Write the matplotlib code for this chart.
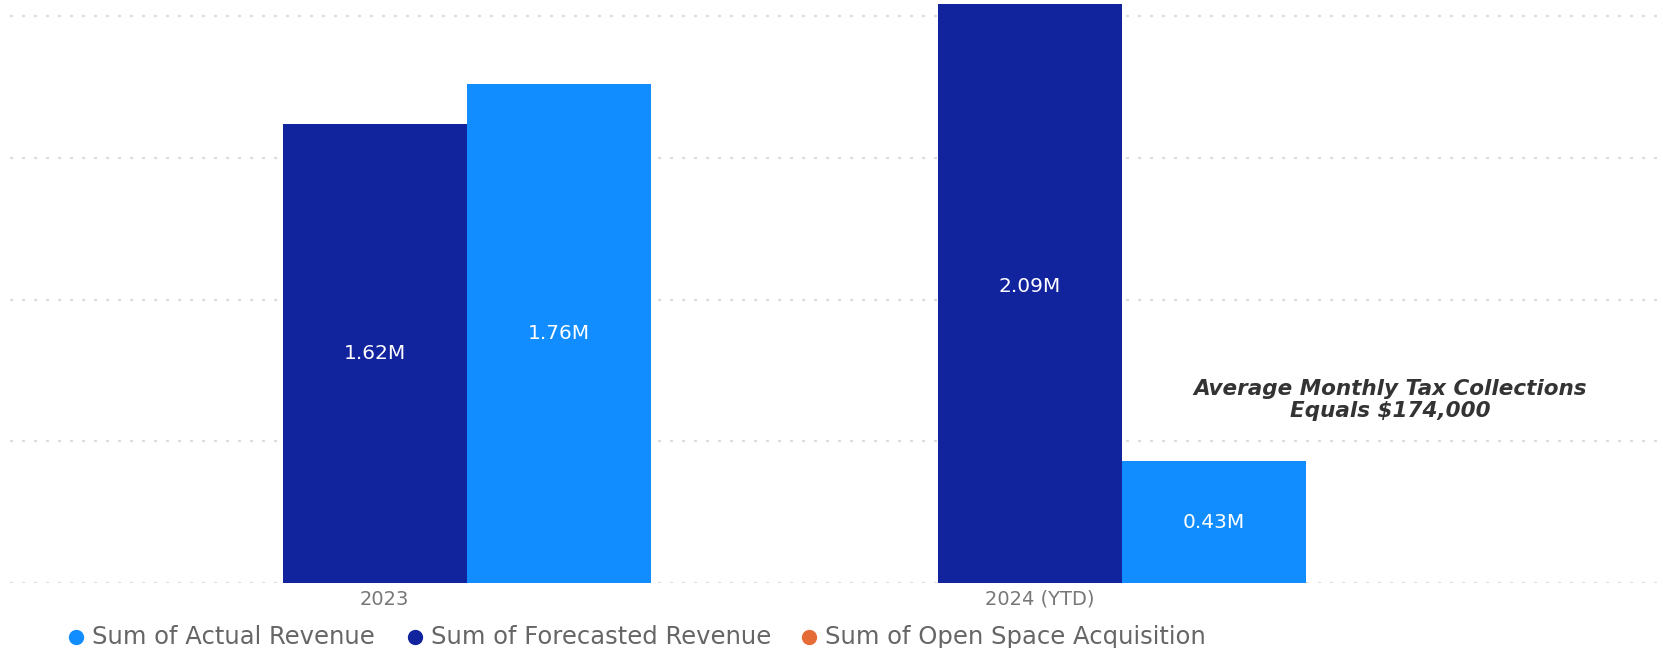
import matplotlib.pyplot as plt
from matplotlib.lines import Line2D
import numpy as np

# Data
categories = ['2023', '2024 (YTD)']
forecasted = [1.62, 2.09]
actual = [1.76, 0.43]
open_space = [0, 0]
series_names = ['Sum of Actual Revenue', 'Sum of Forecasted Revenue', 'Sum of Open Space Acquisition']
note = 'Average Monthly Tax Collections\nEquals $174,000'

# Power BI colours
c_actual = '#118DFF'
c_fore = '#12239E'
c_open = '#E66C37'

W, H = 1663, 648
fig = plt.figure(figsize=(W / 100, H / 100), dpi=100)
ax = fig.add_axes([0.006, 0.1003, 0.9904, 0.8935])

x = np.arange(len(categories))
w = 0.281

b1 = ax.bar(x - w / 2, forecasted, w, color=c_fore, zorder=2)
b2 = ax.bar(x + w / 2, actual, w, color=c_actual, zorder=2)
ax.bar(x + 1.5 * w, open_space, w, color=c_open, zorder=2)

# labels in the middle of the bars
for bars, vals in [(b1, forecasted), (b2, actual)]:
    for b, v in zip(bars, vals):
        ax.text(b.get_x() + b.get_width() / 2, v / 2, f'{v:.2f}M',
                ha='center', va='center', color='white', fontsize=14.5, zorder=3)

ax.set_xlim(-0.6977, 1.8168)
ax.set_ylim(0, 2.043)
ax.set_yticks([0, 0.5, 1.0, 1.5, 2.0])
ax.set_yticklabels([])
ax.tick_params(axis='y', length=0)
ax.set_xticks(x - 0.126)
ax.set_xticklabels(categories, fontsize=14, color='#777777')
ax.tick_params(axis='x', length=0, pad=5)
ax.yaxis.grid(True, color='#DDDDDD', linestyle=(0, (1.4, 4)), linewidth=1.6, zorder=0)
for s in ax.spines.values():
    s.set_visible(False)

fig.text(1390 / W, 1 - 400 / H, note, ha='center', va='center',
         fontsize=15.5, fontweight='bold', fontstyle='italic', color='#333333',
         linespacing=1.15)

# legend, drawn item by item
leg_marker_x = [76, 415, 809]
leg_text_x = [92, 431, 825]
leg_y = 1 - 637 / H
for mx, tx, name, c in zip(leg_marker_x, leg_text_x, series_names, [c_actual, c_fore, c_open]):
    fig.add_artist(Line2D([mx / W], [leg_y], transform=fig.transFigure, marker='o',
                          markersize=10, color=c, linestyle=''))
    fig.text(tx / W, leg_y, name, ha='left', va='center', fontsize=17.5, color='#666666')

fig.savefig('out.png', dpi=100)
